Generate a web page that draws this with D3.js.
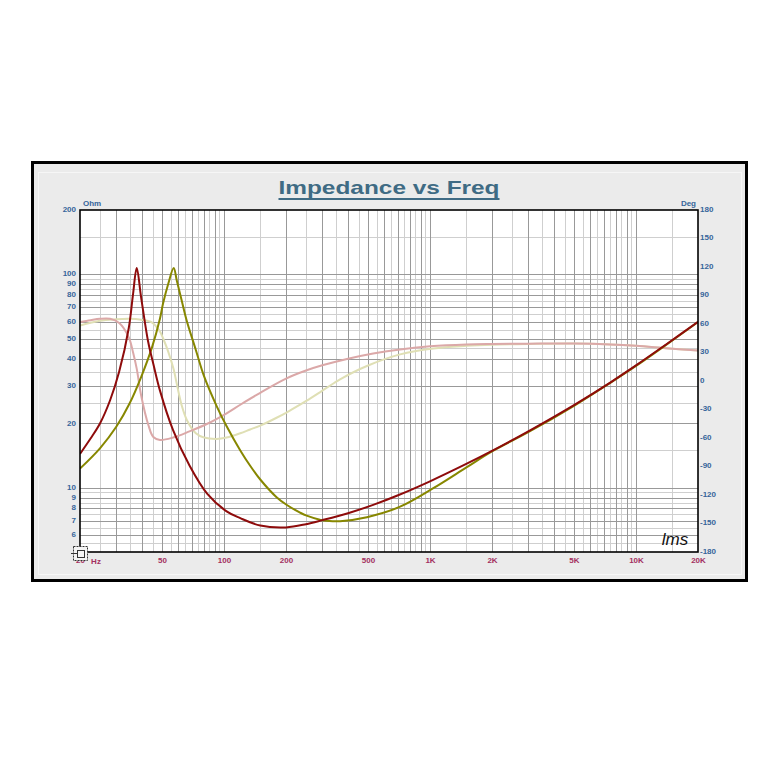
<!DOCTYPE html>
<html>
<head>
<meta charset="utf-8">
<script src="https://cdn.jsdelivr.net/npm/d3@7"></script>
<style>
  html, body { margin: 0; padding: 0; background: #ffffff; }
  svg { display: block; }
  text { font-family: "Liberation Sans", Arial, sans-serif; }
</style>
</head>
<body>
<svg id="chart" width="776" height="768"></svg>
<script>
// ---------------- data ----------------
const titleText = "Impedance vs Freq";

// Series A (dark red impedance + pink phase)
const freqA = [20, 22.5, 25, 28, 31, 34.5, 36.2, 37.7, 39.6, 42.9, 45.4, 48.9, 56.6, 68, 83, 103, 120, 150, 200, 250, 300, 400, 530, 700, 1000, 1500, 2000, 3000, 5000, 7500, 10000, 14000, 20000];
const impedanceA = [14.4, 17.0, 20.0, 25.7, 35.0, 56, 81, 107, 78, 48, 38, 28.5, 18.6, 12.7, 9.35, 7.75, 7.2, 6.65, 6.52, 6.75, 7.05, 7.6, 8.31, 9.22, 10.72, 12.93, 14.88, 18.38, 24.4, 31.1, 37.4, 46.9, 59.9];
const phaseA = [62, 64, 65.5, 65.5, 61, 46, 30, 13, -15, -46, -59, -62, -59.5, -53, -45, -34, -25, -12.4, 2.5, 11, 16.5, 23.5, 29, 33, 36.5, 38.5, 39, 39.3, 39.5, 38.5, 37, 34.5, 32];

// Series B (olive impedance + pale phase)
const freqB = [20, 25, 30, 34.8, 39.6, 44.8, 48.9, 50.6, 53.6, 57, 59, 62.2, 66, 73, 80, 92, 103, 120, 134, 150, 180, 202, 234, 252, 298, 341, 366, 494, 716, 1038, 1503, 2000, 3000, 5000, 7500, 10000, 14000, 20000];
const impedanceB = [12.3, 15.3, 19.3, 24.8, 33, 45.7, 62, 72.9, 90, 107, 93.5, 76, 60.4, 44.2, 33.3, 24.2, 19.4, 14.96, 12.67, 10.93, 9.03, 8.3, 7.65, 7.4, 7.05, 6.97, 6.97, 7.28, 8.15, 9.95, 12.45, 14.8, 18.2, 24.2, 31.0, 37.2, 46.7, 59.7];
const phaseB = [58.5, 63.5, 65, 65.5, 64.5, 61.5, 52, 45, 31, 12, -3, -25, -41, -55, -59.5, -61, -59.5, -55, -51, -47, -38.7, -32.9, -24.9, -20.7, -10.6, -2.4, 1.8, 15.8, 28, 34.3, 37, 38.2, 39, 39.5, 38.5, 37, 34.5, 32];

// ticks
const ohmTicks = [200, 100, 90, 80, 70, 60, 50, 40, 30, 20, 10, 9, 8, 7, 6];
const degTicks = [180, 150, 120, 90, 60, 30, 0, -30, -60, -90, -120, -150, -180];
const freqTicks = [20, 50, 100, 200, 500, 1000, 2000, 5000, 10000, 20000];
const freqTickLabels = ["20", "50", "100", "200", "500", "1K", "2K", "5K", "10K", "20K"];

// ---------------- layout ----------------
const svg = d3.select("#chart");
const L = 80, R = 698, T = 210, B = 552;

const x = d3.scaleLog().domain([20, 20000]).range([L, R]);
const yZ = d3.scaleLog().domain([5, 200]).range([B, T]);
const yP = d3.scaleLinear().domain([-180, 180]).range([B, T]);

// outer frame
svg.append("rect").attr("x", 0).attr("y", 0).attr("width", 776).attr("height", 768).attr("fill", "#ffffff");
svg.append("rect").attr("x", 32.5).attr("y", 162.5).attr("width", 714).attr("height", 418)
  .attr("fill", "#ebebeb").attr("stroke", "#000").attr("stroke-width", 3);
svg.append("rect").attr("x", 38.5).attr("y", 172.5).attr("width", 703).attr("height", 402)
  .attr("fill", "none").attr("stroke", "#f6f6f6").attr("stroke-width", 1);

// plot background
svg.append("rect").attr("x", L).attr("y", T).attr("width", R - L).attr("height", B - T).attr("fill", "#ffffff");

// grid
const grid = svg.append("g");
const vDark = [], vLight = [];
[10, 100, 1000, 10000].forEach(d => {
  for (let n = 1; n <= 9; n++) {
    const f = n * d, h = (n + 0.5) * d;
    if (f > 20 && f < 20000) vDark.push(f);
    if (h > 20 && h < 20000) vLight.push(h);
  }
});
const hDark = [], hLight = [];
[1, 10, 100].forEach(d => {
  for (let n = 1; n <= 9; n++) {
    const v = n * d, h = (n + 0.5) * d;
    if (v > 5 && v < 200) hDark.push(v);
    if (h > 5 && h < 200) hLight.push(h);
  }
});
const lightCol = "#cfcfcf", darkCol = "#999999";
grid.selectAll(".vl").data(vLight).enter().append("line")
  .attr("x1", d => Math.round(x(d)) + 0.5).attr("x2", d => Math.round(x(d)) + 0.5)
  .attr("y1", T).attr("y2", B).attr("stroke", lightCol).attr("stroke-width", 1);
grid.selectAll(".hl").data(hLight).enter().append("line")
  .attr("y1", d => Math.round(yZ(d)) + 0.5).attr("y2", d => Math.round(yZ(d)) + 0.5)
  .attr("x1", L).attr("x2", R).attr("stroke", lightCol).attr("stroke-width", 1);
grid.selectAll(".vd").data(vDark).enter().append("line")
  .attr("x1", d => Math.round(x(d)) + 0.5).attr("x2", d => Math.round(x(d)) + 0.5)
  .attr("y1", T).attr("y2", B).attr("stroke", darkCol).attr("stroke-width", 1);
grid.selectAll(".hd").data(hDark).enter().append("line")
  .attr("y1", d => Math.round(yZ(d)) + 0.5).attr("y2", d => Math.round(yZ(d)) + 0.5)
  .attr("x1", L).attr("x2", R).attr("stroke", darkCol).attr("stroke-width", 1);

// curves
const clip = svg.append("clipPath").attr("id", "plotclip");
clip.append("rect").attr("x", L).attr("y", T).attr("width", R - L).attr("height", B - T);
const curves = svg.append("g").attr("clip-path", "url(#plotclip)");

const smooth = d3.curveCatmullRom.alpha(0.5);
function zLine(freqs, vals) {
  return d3.line().curve(smooth).x(d => x(d[0])).y(d => yZ(d[1]))(freqs.map((f, i) => [f, vals[i]]));
}
function pLine(freqs, vals) {
  return d3.line().curve(smooth).x(d => x(d[0])).y(d => yP(d[1]))(freqs.map((f, i) => [f, vals[i]]));
}
curves.append("path").attr("d", pLine(freqB, phaseB)).attr("fill", "none").attr("stroke", "#dfdfb4").attr("stroke-width", 2);
curves.append("path").attr("d", pLine(freqA, phaseA)).attr("fill", "none").attr("stroke", "#dba8a8").attr("stroke-width", 2);
curves.append("path").attr("d", zLine(freqB, impedanceB)).attr("fill", "none").attr("stroke", "#878700").attr("stroke-width", 2);
curves.append("path").attr("d", zLine(freqA, impedanceA)).attr("fill", "none").attr("stroke", "#8e0b0b").attr("stroke-width", 2);

// plot border
svg.append("rect").attr("x", L).attr("y", T).attr("width", R - L).attr("height", B - T)
  .attr("fill", "none").attr("stroke", "#000").attr("stroke-width", 1.6);

// axes (labels only)
const blue = "#36659a", red = "#a3305f";
const fs = 8;
const axL = svg.append("g").attr("transform", `translate(${L - 3},-1)`)
  .call(d3.axisLeft(yZ).tickValues(ohmTicks).tickFormat(d => String(d)).tickSize(0).tickPadding(1));
const axR = svg.append("g").attr("transform", `translate(${R + 1},-1.5)`)
  .call(d3.axisRight(yP).tickValues(degTicks).tickFormat(d => String(d)).tickSize(0).tickPadding(1));
const axB = svg.append("g").attr("transform", `translate(0,${B + 4})`)
  .call(d3.axisBottom(x).tickValues(freqTicks).tickFormat((d, i) => freqTickLabels[i]).tickSize(0).tickPadding(1));
[axL, axR].forEach(a => {
  a.select(".domain").remove();
  a.selectAll("text").attr("fill", blue).attr("font-size", fs).attr("font-weight", "bold")
    .attr("font-family", "'Liberation Sans', Arial, sans-serif");
});
axB.select(".domain").remove();
axB.selectAll("text").attr("fill", red).attr("font-size", fs).attr("font-weight", "bold")
  .attr("font-family", "'Liberation Sans', Arial, sans-serif");

// unit labels
svg.append("text").attr("x", 83).attr("y", 206).attr("fill", blue).attr("font-size", fs).attr("font-weight", "bold").text("Ohm");
svg.append("text").attr("x", 696).attr("y", 206).attr("text-anchor", "end").attr("fill", blue).attr("font-size", fs).attr("font-weight", "bold").text("Deg");
svg.append("text").attr("x", 96).attr("y", B + 11.5).attr("text-anchor", "middle").attr("fill", red).attr("font-size", fs).attr("font-weight", "bold").text("Hz");

// title
const title = svg.append("text").attr("x", 389).attr("y", 193.5).attr("text-anchor", "middle")
  .attr("font-family", "'DejaVu Sans', Verdana, sans-serif")
  .attr("fill", "#3f6b84").attr("font-size", 19).attr("font-weight", "bold")
  .attr("textLength", 221).attr("lengthAdjust", "spacingAndGlyphs").text(titleText);
const tb = title.node().getBBox();
svg.append("line").attr("x1", tb.x).attr("x2", tb.x + tb.width).attr("y1", 199).attr("y2", 199)
  .attr("stroke", "#3f6b84").attr("stroke-width", 2);

// lms logo
svg.append("text").attr("x", 675).attr("y", 545).attr("text-anchor", "middle")
  .attr("font-family", "'DejaVu Serif', serif").attr("font-style", "italic")
  .attr("font-size", 17).attr("fill", "#111").text("lms");

// small corner icon
const ic = svg.append("g").attr("transform", "translate(73,546)");
ic.append("rect").attr("x", 0.5).attr("y", 0.5).attr("width", 14).attr("height", 14).attr("fill", "#f4f4f4").attr("stroke", "#333").attr("stroke-width", 1).attr("stroke-dasharray", "2,1");
ic.append("rect").attr("x", 4.5).attr("y", 4.5).attr("width", 7).attr("height", 7).attr("fill", "none").attr("stroke", "#333").attr("stroke-width", 1);
ic.append("line").attr("x1", -2).attr("x2", 4).attr("y1", 7.5).attr("y2", 7.5).attr("stroke", "#333");
</script>
</body>
</html>
